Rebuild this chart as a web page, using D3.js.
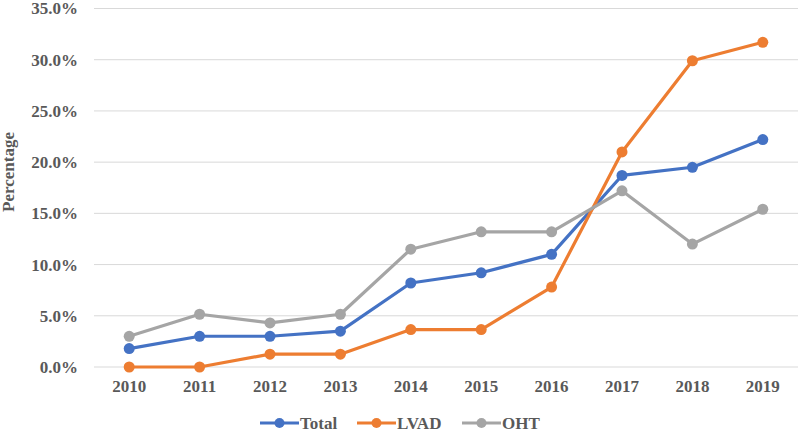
<!DOCTYPE html>
<html><head><meta charset="utf-8">
<script src="https://cdn.jsdelivr.net/npm/d3@7"></script>
<style>body{margin:0;background:#fff}svg{display:block}</style>
</head><body>
<svg id="c" width="800" height="432"></svg>
<script>
const years = ["2010","2011","2012","2013","2014","2015","2016","2017","2018","2019"];
const total = [1.8, 3.0, 3.0, 3.5, 8.2, 9.2, 11.0, 18.7, 19.5, 22.2];
const lvad  = [0.0, 0.0, 1.25, 1.25, 3.65, 3.65, 7.8, 21.0, 29.9, 31.7];
const oht   = [3.0, 5.15, 4.3, 5.15, 11.5, 13.2, 13.2, 17.2, 12.0, 15.4];
const yTicks = [0, 5, 10, 15, 20, 25, 30, 35];
const seriesNames = ["Total", "LVAD", "OHT"];
const colors = ["#4472C4", "#ED7D31", "#A5A5A5"];
const seriesData = [total, lvad, oht];

const svg = d3.select("#c");
const font = "'Liberation Serif','Times New Roman',serif";
const x = d3.scaleBand().domain(years).range([94, 798]);
const y = d3.scaleLinear().domain([0, 35]).range([367, 8.5]);

// gridlines
svg.append("g").selectAll("line").data(yTicks).join("line")
  .attr("x1", 94).attr("x2", 798)
  .attr("y1", d => y(d)).attr("y2", d => y(d))
  .attr("stroke", "#d9d9d9").attr("stroke-width", 1);

// y axis labels
const ya = svg.append("g").attr("transform", "translate(78,0)")
  .call(d3.axisLeft(y).tickValues(yTicks).tickSize(0).tickPadding(0).tickFormat(d => d.toFixed(1) + "%"));
ya.select(".domain").remove();
ya.selectAll("text").attr("font-family", font).attr("font-weight", "bold")
  .attr("font-size", 17).attr("fill", "#595959");

// x axis labels
const xa = svg.append("g").attr("transform", "translate(0,367)")
  .call(d3.axisBottom(x).tickSize(0).tickPadding(13));
xa.select(".domain").remove();
xa.selectAll("text").attr("font-family", font).attr("font-weight", "bold")
  .attr("font-size", 17).attr("fill", "#595959");

// y title
svg.append("text").attr("transform", "translate(14,172) rotate(-90)")
  .attr("text-anchor", "middle").attr("font-family", font).attr("font-weight", "bold")
  .attr("font-size", 17).attr("fill", "#595959").text("Percentage");

const cx = d => x(d) + x.bandwidth() / 2;
const line = d3.line().x((d, i) => cx(years[i])).y(d => y(d));

seriesData.forEach((vals, s) => {
  const g = svg.append("g");
  g.append("path").datum(vals).attr("d", line).attr("fill", "none")
    .attr("stroke", colors[s]).attr("stroke-width", 3.2).attr("stroke-linejoin", "round");
  g.selectAll("circle").data(vals).join("circle")
    .attr("cx", (d, i) => cx(years[i])).attr("cy", d => y(d)).attr("r", 5.5)
    .attr("fill", colors[s]);
});

// legend
const legX = [260, 357, 462];
const leg = svg.append("g");
seriesNames.forEach((n, i) => {
  const lg = leg.append("g").attr("transform", `translate(${legX[i]},423)`);
  lg.append("line").attr("x1", 0).attr("x2", 39).attr("y1", 0).attr("y2", 0)
    .attr("stroke", colors[i]).attr("stroke-width", 3.2);
  lg.append("circle").attr("cx", 19.5).attr("cy", 0).attr("r", 5).attr("fill", colors[i]);
  lg.append("text").attr("x", 40).attr("y", 0).attr("dy", "0.35em")
    .attr("font-family", font).attr("font-weight", "bold").attr("font-size", 17)
    .attr("fill", "#595959").text(n);
});
</script>
</body></html>
